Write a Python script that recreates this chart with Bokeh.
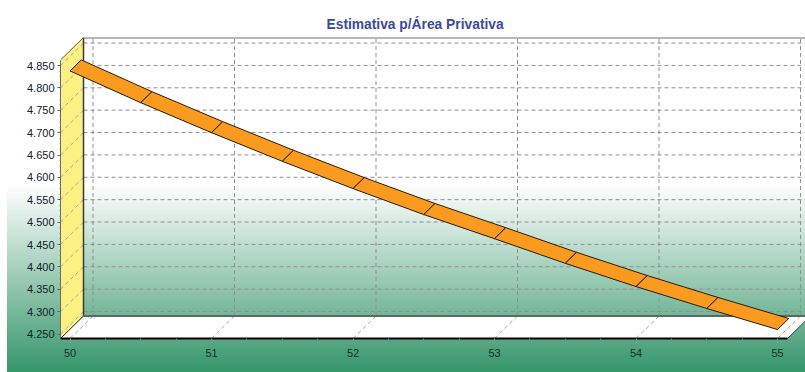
from bokeh.embed import file_html
from bokeh.resources import INLINE
from bokeh.models import ColumnDataSource, FixedTicker, NumeralTickFormatter, Range1d
from bokeh.plotting import figure

# Series read along the front edge of the ribbon
x_values = [50.0, 50.5, 51.0, 51.5, 52.0, 52.5, 53.0, 53.5, 54.0, 54.5, 55.0]
y_values = [4.838, 4.767, 4.700, 4.636, 4.575, 4.517, 4.463, 4.408, 4.356, 4.307, 4.260]
x_ticks = [50, 51, 52, 53, 54, 55]
y_ticks = [4.25, 4.30, 4.35, 4.40, 4.45, 4.50, 4.55, 4.60, 4.65, 4.70, 4.75, 4.80, 4.85]
title_text = "Estimativa p/Área Privativa"

# Pseudo-3D box, in data units of the front plane
X_PX = 141.5                 # pixels per x unit
Y_PX = 447.4                 # pixels per y unit
DEPTH_X = 23 / X_PX
DEPTH_Y = 22.5 / Y_PX
RIBBON_DEPTH = 0.49
X_MIN = 50 - 9.5 / X_PX
X_MAX = 50 + 735.5 / X_PX
Y_MIN = 4.25 - 4.5 / Y_PX
Y_MAX = 4.25 + 296.5 / Y_PX
FLOOR_END = 50 + 717.5 / X_PX
WALL_TOP = Y_MAX - DEPTH_Y

p = figure(
    width=805, height=372, output_backend="svg", toolbar_location=None,
    x_range=Range1d(X_MIN, X_MAX), y_range=Range1d(Y_MIN, Y_MAX),
    min_border_left=60, min_border_right=0, min_border_top=37, min_border_bottom=34,
    outline_line_color=None, background_fill_alpha=0, border_fill_alpha=0,
    title=title_text,
)
p.styles = {
    "background": "linear-gradient(to bottom, #ffffff 0px, #ffffff 185px, #35966a 372px) 7px 0 / 798px 372px no-repeat"
}
p.title.align = "left"
p.title.offset = 266
p.title.text_font = "Liberation Sans"
p.title.text_font_size = "13.8px"
p.title.text_font_style = "bold"
p.title.text_color = "#3b4a9c"
p.title.standoff = 12
p.grid.visible = False

# Yellow side wall and white floor
p.patch([X_MIN, X_MIN + DEPTH_X, X_MIN + DEPTH_X, X_MIN],
        [Y_MIN, Y_MIN + DEPTH_Y, WALL_TOP + DEPTH_Y, WALL_TOP],
        fill_color="#fbf082", line_color=None)
p.patch([X_MIN, FLOOR_END, FLOOR_END + DEPTH_X, X_MIN + DEPTH_X],
        [Y_MIN, Y_MIN, Y_MIN + DEPTH_Y, Y_MIN + DEPTH_Y],
        fill_color="#ffffff", line_color=None)

# Dashed grid on the back wall
grid_color = "#909090"
p.multi_line([[X_MIN + DEPTH_X, X_MAX + 1] for _ in y_ticks],
             [[v + DEPTH_Y, v + DEPTH_Y] for v in y_ticks],
             line_color=grid_color, line_dash="4 3", line_width=1)
p.multi_line([[v + DEPTH_X, v + DEPTH_X] for v in x_ticks],
             [[Y_MIN + DEPTH_Y, WALL_TOP + DEPTH_Y] for _ in x_ticks],
             line_color=grid_color, line_dash="4 3", line_width=1)

# Dashed grid carried across the side wall and the floor
wall_color = "#a6a6a6"
p.multi_line([[X_MIN, X_MIN + DEPTH_X] for _ in y_ticks],
             [[v, v + DEPTH_Y] for v in y_ticks],
             line_color=wall_color, line_dash="4 3", line_width=1)
p.multi_line([[v, v + DEPTH_X] for v in x_ticks],
             [[Y_MIN, Y_MIN + DEPTH_Y] for _ in x_ticks],
             line_color=wall_color, line_dash="4 3", line_width=1)

# Box edges
p.line([X_MIN + DEPTH_X, X_MIN + DEPTH_X], [Y_MIN + DEPTH_Y, WALL_TOP + DEPTH_Y], line_color="#3a3a3a", line_width=1.5)
p.line([X_MIN + DEPTH_X, X_MAX], [WALL_TOP + DEPTH_Y, WALL_TOP + DEPTH_Y], line_color="#707070", line_width=2)
p.line([X_MIN + DEPTH_X, X_MAX], [Y_MIN + DEPTH_Y, Y_MIN + DEPTH_Y], line_color="#5a6a62", line_width=2)
p.line([X_MIN, X_MIN + DEPTH_X], [Y_MIN, Y_MIN + DEPTH_Y], line_color="#222222", line_width=1)
p.line([X_MIN, X_MIN + DEPTH_X], [WALL_TOP, WALL_TOP + DEPTH_Y], line_color="#555555", line_width=1)
p.line([FLOOR_END, FLOOR_END + DEPTH_X], [Y_MIN, Y_MIN + DEPTH_Y], line_color="#444444", line_width=1)

# Orange ribbon, one quad per data step
ribbon_xs, ribbon_ys = [], []
for i in range(len(x_values) - 1):
    x0, x1 = x_values[i], x_values[i + 1]
    y0, y1 = y_values[i], y_values[i + 1]
    ribbon_xs.append([x0, x1, x1 + DEPTH_X * RIBBON_DEPTH, x0 + DEPTH_X * RIBBON_DEPTH])
    ribbon_ys.append([y0, y1, y1 + DEPTH_Y * RIBBON_DEPTH, y0 + DEPTH_Y * RIBBON_DEPTH])
p.patches("xs", "ys", source=ColumnDataSource(dict(xs=ribbon_xs, ys=ribbon_ys)),
          fill_color="#fa9a1e", line_color="#2a1c08", line_width=1)

# Axes sit on the front plane
xa = p.xaxis[0]
xa.ticker = FixedTicker(ticks=x_ticks,
                        minor_ticks=[t + k * 0.25 for t in x_ticks[:-1] for k in (1, 2, 3)])
xa.bounds = (X_MIN, FLOOR_END)
xa.axis_line_color = "#000000"
xa.axis_line_width = 2
xa.major_tick_line_color = "#8a9a92"
xa.major_tick_in = 0
xa.major_tick_out = 5
xa.minor_tick_line_color = "#6f8f80"
xa.minor_tick_in = 0
xa.minor_tick_out = 2
xa.major_label_standoff = 5
xa.major_label_text_font = "Liberation Sans"
xa.major_label_text_font_size = "11px"
xa.major_label_text_color = "#12302b"

ya = p.yaxis[0]
ya.ticker = FixedTicker(ticks=y_ticks,
                        minor_ticks=[t + k * 0.0125 for t in y_ticks[:-1] for k in (1, 2, 3)])
ya.bounds = (Y_MIN, WALL_TOP)
ya.formatter = NumeralTickFormatter(format="0.000")
ya.axis_line_color = "#6a6a6a"
ya.axis_line_width = 1
ya.major_tick_line_color = "#666666"
ya.major_tick_in = 0
ya.major_tick_out = 3
ya.minor_tick_line_color = "#888888"
ya.minor_tick_in = 0
ya.minor_tick_out = 1
ya.major_label_standoff = 3
ya.major_label_text_font = "Liberation Sans"
ya.major_label_text_font_size = "11px"
ya.major_label_text_color = "#14202a"

open("out.html", "w").write(file_html(p, INLINE))
